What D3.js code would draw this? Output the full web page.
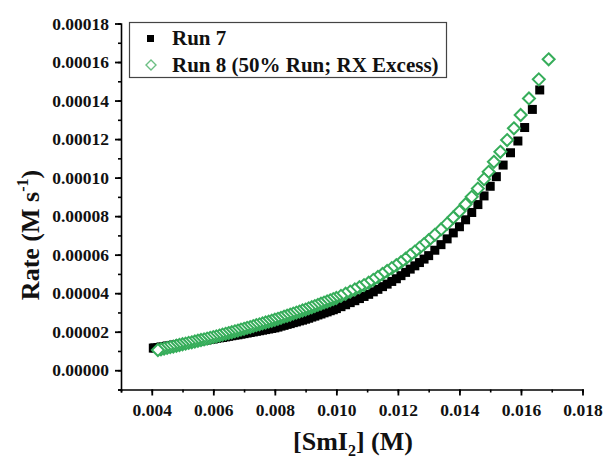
<!DOCTYPE html>
<html>
<head>
<meta charset="utf-8">
<script src="https://cdn.jsdelivr.net/npm/d3@7"></script>
<style>
  body { margin: 0; background: #fff; }
  text { font-family: "Liberation Serif", "Times New Roman", serif; font-weight: bold; fill: #111; }
</style>
</head>
<body>
<div id="chart"></div>
<script>
// [SmI2] in mM, rate in 1e-5 M/s
const run7X = [4.05, 4.1, 4.2, 4.3, 4.4, 4.5, 4.6, 4.7, 4.8, 4.9, 5.0, 5.1, 5.2, 5.3, 5.4, 5.5, 5.6, 5.7, 5.8, 5.9,
  6.0, 6.1, 6.2, 6.3, 6.4, 6.5, 6.6, 6.7, 6.8, 6.9, 7.0, 7.1, 7.2, 7.3, 7.4, 7.5, 7.6, 7.7, 7.8, 7.9,
  8.0, 8.1, 8.2, 8.3, 8.4, 8.5, 8.6, 8.7, 8.8, 8.9, 9.0, 9.1, 9.2, 9.3, 9.4, 9.5, 9.6, 9.7, 9.8, 9.9,
  10.0, 10.15, 10.3, 10.45, 10.6, 10.75, 10.9, 11.05, 11.2, 11.35, 11.5, 11.65, 11.8, 11.95, 12.1, 12.25,
  12.4, 12.55, 12.7, 12.85, 13.0, 13.2, 13.4, 13.6, 13.8, 14.0, 14.2, 14.4, 14.6, 14.8, 15.0, 15.2,
  15.42, 15.66, 15.9, 16.12, 16.37, 16.61];
const run7Rate = [1.15, 1.16, 1.18, 1.21, 1.23, 1.26, 1.28, 1.31, 1.33, 1.36, 1.38, 1.40, 1.43, 1.45, 1.47, 1.50, 1.52, 1.55, 1.57, 1.60,
  1.62, 1.65, 1.68, 1.70, 1.73, 1.76, 1.79, 1.82, 1.84, 1.87, 1.90, 1.93, 1.96, 1.99, 2.02, 2.05, 2.08, 2.11, 2.14, 2.17,
  2.20, 2.24, 2.29, 2.33, 2.38, 2.42, 2.47, 2.51, 2.56, 2.60, 2.65, 2.70, 2.76, 2.81, 2.87, 2.92, 2.98, 3.03, 3.09, 3.14,
  3.20, 3.30, 3.40, 3.51, 3.61, 3.72, 3.83, 3.94, 4.07, 4.20, 4.34, 4.47, 4.61, 4.75, 4.91, 5.08,
  5.25, 5.42, 5.59, 5.77, 5.95, 6.23, 6.52, 6.82, 7.13, 7.45, 7.81, 8.19, 8.60, 9.05, 9.55, 10.05,
  10.65, 11.29, 11.9, 12.6, 13.54, 14.55];

const run8X = [4.2, 4.3, 4.4, 4.5, 4.6, 4.7, 4.8, 4.9, 5.0, 5.1, 5.2, 5.3, 5.4, 5.5, 5.6, 5.7, 5.8, 5.9,
  6.0, 6.1, 6.2, 6.3, 6.4, 6.5, 6.6, 6.7, 6.8, 6.9, 7.0, 7.1, 7.2, 7.3, 7.4, 7.5, 7.6, 7.7, 7.8, 7.9,
  8.0, 8.1, 8.2, 8.3, 8.4, 8.5, 8.6, 8.7, 8.8, 8.9, 9.0, 9.1, 9.2, 9.3, 9.4, 9.5, 9.6, 9.7, 9.8, 9.9,
  10.0, 10.15, 10.3, 10.45, 10.6, 10.75, 10.9, 11.05, 11.2, 11.35, 11.5, 11.65, 11.8, 11.95, 12.1, 12.25,
  12.4, 12.55, 12.7, 12.85, 13.0, 13.2, 13.4, 13.6, 13.8, 14.0, 14.2, 14.4, 14.6, 14.8, 14.95,
  15.12, 15.33, 15.55, 15.77, 15.99, 16.26, 16.58, 16.9];
const run8Rate = [1.05, 1.09, 1.12, 1.16, 1.20, 1.23, 1.27, 1.31, 1.35, 1.38, 1.42, 1.45, 1.49, 1.53, 1.57, 1.60, 1.64, 1.68,
  1.72, 1.76, 1.80, 1.85, 1.89, 1.93, 1.97, 2.02, 2.06, 2.11, 2.15, 2.20, 2.24, 2.29, 2.34, 2.38, 2.43, 2.48, 2.52, 2.57,
  2.62, 2.67, 2.72, 2.78, 2.83, 2.88, 2.94, 2.99, 3.04, 3.10, 3.15, 3.21, 3.27, 3.33, 3.39, 3.45, 3.51, 3.57, 3.63, 3.69,
  3.75, 3.86, 3.97, 4.08, 4.19, 4.31, 4.42, 4.54, 4.69, 4.84, 5.00, 5.15, 5.30, 5.45, 5.61, 5.79,
  5.98, 6.16, 6.35, 6.55, 6.75, 7.03, 7.31, 7.61, 7.93, 8.25, 8.62, 9.00, 9.43, 9.92, 10.3,
  10.82, 11.34, 11.95, 12.56, 13.25, 14.11, 15.10, 16.14];

const xTicks = [0.004, 0.006, 0.008, 0.010, 0.012, 0.014, 0.016, 0.018];
const yTicks = [0, 0.00002, 0.00004, 0.00006, 0.00008, 0.00010, 0.00012, 0.00014, 0.00016, 0.00018];
const legendLabels = ["Run 7", "Run 8 (50% Run; RX Excess)"];

const width = 606, height = 461;
const green = "#36ad5a";

const svg = d3.select("#chart").append("svg")
  .attr("width", width)
  .attr("height", height);

const x = d3.scaleLinear().domain([0.003, 0.018]).range([121, 582.5]);
const y = d3.scaleLinear().domain([-0.00001, 0.00018]).range([389.5, 23.5]);

const run7 = run7X.map((v, i) => ({ x: v * 1e-3, y: run7Rate[i] * 1e-5 }));
const run8 = run8X.map((v, i) => ({ x: v * 1e-3, y: run8Rate[i] * 1e-5 }));

// axes
const xMinor = d3.range(0.003, 0.0185, 0.001);
const yMinor = d3.range(-0.00001, 0.000185, 0.00001);

const xAxisG = svg.append("g").attr("transform", "translate(0,389.5)");
xAxisG.call(d3.axisBottom(x).tickValues(xMinor).tickSize(3).tickFormat(""));
xAxisG.call(g => g.selectAll("line, path").attr("stroke-width", 1.6));
const xMajor = svg.append("g").attr("transform", "translate(0,389.5)")
  .call(d3.axisBottom(x).tickValues(xTicks).tickSize(6).tickPadding(8).tickFormat(d3.format(".3f")));
xMajor.select(".domain").remove();
xMajor.selectAll("line").attr("stroke-width", 1.8);
xMajor.selectAll("text").attr("font-size", 17.5).attr("font-family", null);

const yAxisG = svg.append("g").attr("transform", "translate(121,0)");
yAxisG.call(d3.axisLeft(y).tickValues(yMinor).tickSize(3).tickFormat(""));
yAxisG.call(g => g.selectAll("line, path").attr("stroke-width", 1.6));
const yMajor = svg.append("g").attr("transform", "translate(121,0)")
  .call(d3.axisLeft(y).tickValues(yTicks).tickSize(6).tickPadding(6).tickFormat(d3.format(".5f")));
yMajor.select(".domain").remove();
yMajor.selectAll("line").attr("stroke-width", 1.8);
yMajor.selectAll("text").attr("font-size", 17.5).attr("font-family", null);

// axis titles
const xt = svg.append("text")
  .attr("x", 353).attr("y", 450)
  .attr("text-anchor", "middle")
  .attr("font-size", 26);
xt.append("tspan").text("[SmI");
xt.append("tspan").attr("font-size", 16).attr("dy", 6).text("2");
xt.append("tspan").attr("dy", -6).text("] (M)");

const yt = svg.append("text")
  .attr("transform", "translate(39,235) rotate(-90)")
  .attr("text-anchor", "middle")
  .attr("font-size", 26);
yt.append("tspan").text("Rate (M s");
yt.append("tspan").attr("font-size", 16).attr("dy", -11).text("-1");
yt.append("tspan").attr("dy", 11).text(")");

// markers
const diamond = s => `M0,${-s}L${s},0L0,${s}L${-s},0Z`;

svg.append("g").selectAll("rect")
  .data(run7)
  .join("rect")
  .attr("x", d => x(d.x) - 4.5)
  .attr("y", d => y(d.y) - 4.5)
  .attr("width", 9)
  .attr("height", 9)
  .attr("fill", "#000");

svg.append("g").selectAll("path")
  .data(run8.slice().reverse())
  .join("path")
  .attr("transform", d => `translate(${x(d.x)},${y(d.y)})`)
  .attr("d", diamond(6))
  .attr("fill", "#fff")
  .attr("stroke", green)
  .attr("stroke-width", 2);

// legend
const legend = svg.append("g");
legend.append("rect")
  .attr("x", 129.5).attr("y", 22.5)
  .attr("width", 317).attr("height", 55)
  .attr("fill", "#fff")
  .attr("stroke", "#444")
  .attr("stroke-width", 1.2);
legend.append("rect")
  .attr("x", 147).attr("y", 35)
  .attr("width", 7).attr("height", 7)
  .attr("fill", "#000");
legend.append("path")
  .attr("transform", "translate(151,65)")
  .attr("d", diamond(5))
  .attr("fill", "#fff")
  .attr("stroke", "#6cbf84")
  .attr("stroke-width", 1.4);
legend.selectAll("text.lab")
  .data(legendLabels)
  .join("text")
  .attr("class", "lab")
  .attr("x", 172)
  .attr("y", (d, i) => 45 + i * 27)
  .attr("font-size", 21)
  .text(d => d);
</script>
</body>
</html>
